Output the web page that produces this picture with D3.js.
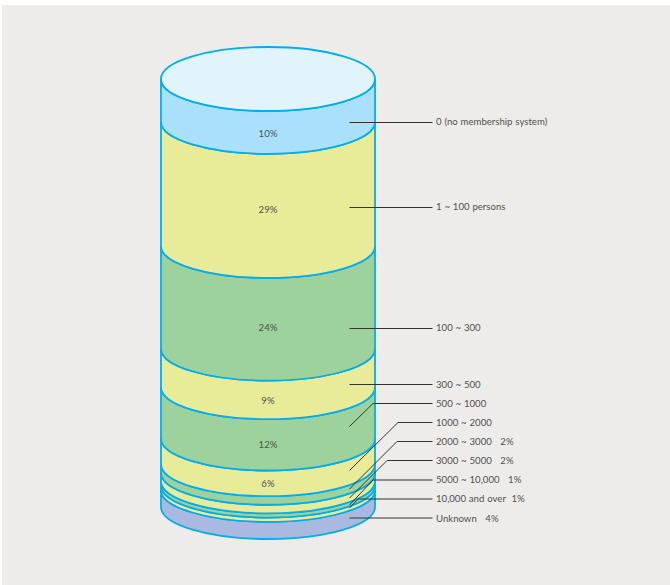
<!DOCTYPE html>
<html><head><meta charset="utf-8">
<script src="https://cdn.jsdelivr.net/npm/d3@7"></script>
<style>html,body{margin:0;padding:0;background:#fff}svg{display:block}text{font-family:"Lato",sans-serif;font-size:9.6px;fill:#505050;white-space:pre;word-spacing:0.4px}</style>
</head><body><svg id="c" width="670" height="585"></svg>
<script>
const categories=["0 (no membership system)","1 ~ 100 persons","100 ~ 300","300 ~ 500","500 ~ 1000","1000 ~ 2000","2000 ~ 3000   2%","3000 ~ 5000   2%","5000 ~ 10,000   1%","10,000 and over  1%","Unknown   4%"];
const values=[10,29,24,9,12,6,2,2,1,1,4];
const insideLabels=["10%","29%","24%","9%","12%","6%"];
const fills=["#aae0fc","#e8ec98","#9dd29c","#e8ec98","#9dd29c","#e8ec98","#9dd29c","#e8ec98","#9dd29c","#e8ec98","#aab9df"];
const insideYs=[133.5,209.5,327.5,400.5,444.5,483.5];
const labelYs=[122.5,207.5,328.5,384.5,403.5,422.5,441.5,460.5,480,499,518];
const textYs=[122,207,328,384.5,404,423,442,461,480,499,518.5];
const anchorYs=[122.5,207.5,328.5,384.5,426.5,470.5,489,498,505,508,518];
const elbowXs=[null,null,null,null,373,398,397,387,373,358,null];

const svg=d3.select("#c");
svg.append("rect").attr("x",2).attr("y",5).attr("width",668).attr("height",580).attr("fill","#eeecea");
const y=d3.scaleLinear().domain([0,100]).range([79,507]);
const cx=268,rx=107,ry=32;
const cum=d3.cumsum(values);
const stroke="#00aeef";
function seg(t,b){return `M${cx-rx},${y(t)} A${rx},${ry} 0 0 0 ${cx+rx},${y(t)} L${cx+rx},${y(b)} A${rx},${ry} 0 0 1 ${cx-rx},${y(b)} Z`;}
const rows=values.map((v,i)=>({v,i,t:i?cum[i-1]:0,b:cum[i]})).reverse();
svg.selectAll("path.seg").data(rows).join("path").attr("class","seg")
 .attr("d",d=>seg(d.t,d.b)).attr("fill",d=>fills[d.i]).attr("stroke",stroke).attr("stroke-width",1.8);
svg.append("ellipse").attr("cx",cx).attr("cy",y(0)).attr("rx",rx).attr("ry",ry).attr("fill","#e1f4fd").attr("stroke",stroke).attr("stroke-width",1.8);
insideLabels.forEach((t,i)=>{
 svg.append("text").attr("x",cx).attr("y",insideYs[i]+3.4).attr("text-anchor","middle").text(t);
});
categories.forEach((c,i)=>{
 const pts=elbowXs[i]==null?[[349.5,anchorYs[i]],[432.5,labelYs[i]]]:[[349.5,anchorYs[i]],[elbowXs[i],labelYs[i]],[432.5,labelYs[i]]];
 svg.append("path").attr("d",d3.line()(pts)).attr("fill","none").attr("stroke","#333").attr("stroke-width",1);
 svg.append("text").attr("x",436).attr("y",textYs[i]+3.4).text(c);
});
</script></body></html>
